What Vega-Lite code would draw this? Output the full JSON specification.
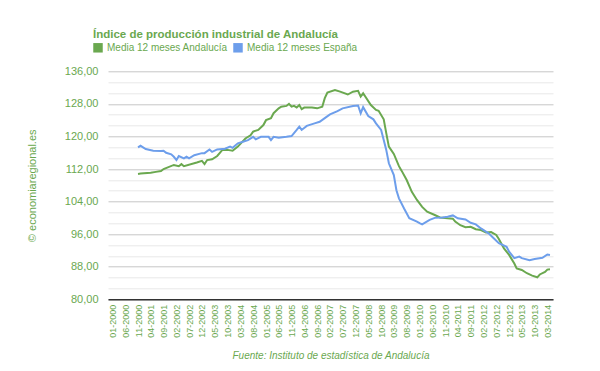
{
  "$schema": "https://vega.github.io/schema/vega-lite/v6.json",
  "width": 445,
  "height": 228,
  "autosize": {"type": "none"},
  "padding": {"left": 108, "top": 71.3, "right": 47, "bottom": 71.7},
  "background": "white",
  "config": {
    "view": {"stroke": null},
    "font": "Arial, Liberation Sans, sans-serif"
  },
  "title": {
    "text": "Índice de producción industrial de Andalucía",
    "anchor": "start",
    "frame": "group",
    "font": "Liberation Sans Narrow, Arial Narrow, Arial, Liberation Sans",
    "fontSize": 11.5,
    "fontWeight": "bold",
    "color": "#6aa84f",
    "baseline": "alphabetic",
    "dx": -15,
    "dy": 37,
    "offset": 30
  },
  "data": {
    "values": [
      {"fecha": "2000-11-01", "serie": "Media 12 meses Andalucía", "valor": 110.8},
      {"fecha": "2000-12-01", "serie": "Media 12 meses Andalucía", "valor": 110.9},
      {"fecha": "2001-04-01", "serie": "Media 12 meses Andalucía", "valor": 111.1},
      {"fecha": "2001-06-01", "serie": "Media 12 meses Andalucía", "valor": 111.3},
      {"fecha": "2001-08-01", "serie": "Media 12 meses Andalucía", "valor": 111.5},
      {"fecha": "2001-09-01", "serie": "Media 12 meses Andalucía", "valor": 112.0},
      {"fecha": "2002-01-01", "serie": "Media 12 meses Andalucía", "valor": 113.0},
      {"fecha": "2002-03-01", "serie": "Media 12 meses Andalucía", "valor": 112.7},
      {"fecha": "2002-04-01", "serie": "Media 12 meses Andalucía", "valor": 113.2},
      {"fecha": "2002-05-01", "serie": "Media 12 meses Andalucía", "valor": 112.7},
      {"fecha": "2002-10-01", "serie": "Media 12 meses Andalucía", "valor": 113.6},
      {"fecha": "2002-12-01", "serie": "Media 12 meses Andalucía", "valor": 114.0},
      {"fecha": "2003-01-01", "serie": "Media 12 meses Andalucía", "valor": 113.2},
      {"fecha": "2003-02-01", "serie": "Media 12 meses Andalucía", "valor": 114.2},
      {"fecha": "2003-04-01", "serie": "Media 12 meses Andalucía", "valor": 114.4},
      {"fecha": "2003-06-01", "serie": "Media 12 meses Andalucía", "valor": 115.2},
      {"fecha": "2003-08-01", "serie": "Media 12 meses Andalucía", "valor": 116.7},
      {"fecha": "2003-10-01", "serie": "Media 12 meses Andalucía", "valor": 116.7},
      {"fecha": "2003-12-01", "serie": "Media 12 meses Andalucía", "valor": 116.5},
      {"fecha": "2004-02-01", "serie": "Media 12 meses Andalucía", "valor": 117.5},
      {"fecha": "2004-05-01", "serie": "Media 12 meses Andalucía", "valor": 119.5},
      {"fecha": "2004-07-01", "serie": "Media 12 meses Andalucía", "valor": 120.3},
      {"fecha": "2004-08-01", "serie": "Media 12 meses Andalucía", "valor": 121.2},
      {"fecha": "2004-10-01", "serie": "Media 12 meses Andalucía", "valor": 121.6},
      {"fecha": "2004-12-01", "serie": "Media 12 meses Andalucía", "valor": 122.8},
      {"fecha": "2005-01-01", "serie": "Media 12 meses Andalucía", "valor": 124.0},
      {"fecha": "2005-03-01", "serie": "Media 12 meses Andalucía", "valor": 124.5},
      {"fecha": "2005-04-01", "serie": "Media 12 meses Andalucía", "valor": 125.7},
      {"fecha": "2005-06-01", "serie": "Media 12 meses Andalucía", "valor": 126.9},
      {"fecha": "2005-07-01", "serie": "Media 12 meses Andalucía", "valor": 127.3},
      {"fecha": "2005-09-01", "serie": "Media 12 meses Andalucía", "valor": 127.5},
      {"fecha": "2005-10-01", "serie": "Media 12 meses Andalucía", "valor": 128.0},
      {"fecha": "2005-11-01", "serie": "Media 12 meses Andalucía", "valor": 127.3},
      {"fecha": "2005-12-01", "serie": "Media 12 meses Andalucía", "valor": 127.5},
      {"fecha": "2006-01-01", "serie": "Media 12 meses Andalucía", "valor": 127.1},
      {"fecha": "2006-02-01", "serie": "Media 12 meses Andalucía", "valor": 127.7},
      {"fecha": "2006-03-01", "serie": "Media 12 meses Andalucía", "valor": 126.7},
      {"fecha": "2006-04-01", "serie": "Media 12 meses Andalucía", "valor": 127.1},
      {"fecha": "2006-07-01", "serie": "Media 12 meses Andalucía", "valor": 127.1},
      {"fecha": "2006-09-01", "serie": "Media 12 meses Andalucía", "valor": 126.9},
      {"fecha": "2006-11-01", "serie": "Media 12 meses Andalucía", "valor": 127.3},
      {"fecha": "2006-12-01", "serie": "Media 12 meses Andalucía", "valor": 129.4},
      {"fecha": "2007-01-01", "serie": "Media 12 meses Andalucía", "valor": 130.8},
      {"fecha": "2007-04-01", "serie": "Media 12 meses Andalucía", "valor": 131.4},
      {"fecha": "2007-06-01", "serie": "Media 12 meses Andalucía", "valor": 131.0},
      {"fecha": "2007-09-01", "serie": "Media 12 meses Andalucía", "valor": 130.3},
      {"fecha": "2007-11-01", "serie": "Media 12 meses Andalucía", "valor": 131.0},
      {"fecha": "2008-01-01", "serie": "Media 12 meses Andalucía", "valor": 131.2},
      {"fecha": "2008-02-01", "serie": "Media 12 meses Andalucía", "valor": 129.8},
      {"fecha": "2008-03-01", "serie": "Media 12 meses Andalucía", "valor": 130.6},
      {"fecha": "2008-06-01", "serie": "Media 12 meses Andalucía", "valor": 127.7},
      {"fecha": "2008-08-01", "serie": "Media 12 meses Andalucía", "valor": 126.5},
      {"fecha": "2008-09-01", "serie": "Media 12 meses Andalucía", "valor": 126.3},
      {"fecha": "2008-11-01", "serie": "Media 12 meses Andalucía", "valor": 124.2},
      {"fecha": "2008-12-01", "serie": "Media 12 meses Andalucía", "valor": 120.8},
      {"fecha": "2009-01-01", "serie": "Media 12 meses Andalucía", "valor": 117.5},
      {"fecha": "2009-03-01", "serie": "Media 12 meses Andalucía", "valor": 115.7},
      {"fecha": "2009-05-01", "serie": "Media 12 meses Andalucía", "valor": 112.7},
      {"fecha": "2009-06-01", "serie": "Media 12 meses Andalucía", "valor": 111.6},
      {"fecha": "2009-08-01", "serie": "Media 12 meses Andalucía", "valor": 109.3},
      {"fecha": "2009-10-01", "serie": "Media 12 meses Andalucía", "valor": 106.4},
      {"fecha": "2009-12-01", "serie": "Media 12 meses Andalucía", "valor": 104.4},
      {"fecha": "2010-02-01", "serie": "Media 12 meses Andalucía", "valor": 102.7},
      {"fecha": "2010-04-01", "serie": "Media 12 meses Andalucía", "valor": 101.5},
      {"fecha": "2010-07-01", "serie": "Media 12 meses Andalucía", "valor": 100.7},
      {"fecha": "2010-09-01", "serie": "Media 12 meses Andalucía", "valor": 100.1},
      {"fecha": "2010-12-01", "serie": "Media 12 meses Andalucía", "valor": 99.9},
      {"fecha": "2011-02-01", "serie": "Media 12 meses Andalucía", "valor": 99.8},
      {"fecha": "2011-03-01", "serie": "Media 12 meses Andalucía", "valor": 99.1},
      {"fecha": "2011-05-01", "serie": "Media 12 meses Andalucía", "valor": 98.2},
      {"fecha": "2011-07-01", "serie": "Media 12 meses Andalucía", "valor": 97.7},
      {"fecha": "2011-09-01", "serie": "Media 12 meses Andalucía", "valor": 97.8},
      {"fecha": "2011-11-01", "serie": "Media 12 meses Andalucía", "valor": 97.2},
      {"fecha": "2012-01-01", "serie": "Media 12 meses Andalucía", "valor": 97.0},
      {"fecha": "2012-03-01", "serie": "Media 12 meses Andalucía", "valor": 96.4},
      {"fecha": "2012-05-01", "serie": "Media 12 meses Andalucía", "valor": 96.5},
      {"fecha": "2012-07-01", "serie": "Media 12 meses Andalucía", "valor": 95.8},
      {"fecha": "2012-08-01", "serie": "Media 12 meses Andalucía", "valor": 94.8},
      {"fecha": "2012-10-01", "serie": "Media 12 meses Andalucía", "valor": 92.5},
      {"fecha": "2012-12-01", "serie": "Media 12 meses Andalucía", "valor": 90.9},
      {"fecha": "2013-02-01", "serie": "Media 12 meses Andalucía", "valor": 88.8},
      {"fecha": "2013-03-01", "serie": "Media 12 meses Andalucía", "valor": 87.6},
      {"fecha": "2013-05-01", "serie": "Media 12 meses Andalucía", "valor": 87.2},
      {"fecha": "2013-07-01", "serie": "Media 12 meses Andalucía", "valor": 86.4},
      {"fecha": "2013-09-01", "serie": "Media 12 meses Andalucía", "valor": 85.8},
      {"fecha": "2013-11-01", "serie": "Media 12 meses Andalucía", "valor": 85.4},
      {"fecha": "2013-12-01", "serie": "Media 12 meses Andalucía", "valor": 86.1},
      {"fecha": "2014-02-01", "serie": "Media 12 meses Andalucía", "valor": 86.7},
      {"fecha": "2014-03-01", "serie": "Media 12 meses Andalucía", "valor": 87.3},
      {"fecha": "2014-04-01", "serie": "Media 12 meses Andalucía", "valor": 87.4},
      {"fecha": "2000-11-01", "serie": "Media 12 meses España", "valor": 117.3},
      {"fecha": "2000-12-01", "serie": "Media 12 meses España", "valor": 117.7},
      {"fecha": "2001-02-01", "serie": "Media 12 meses España", "valor": 116.9},
      {"fecha": "2001-05-01", "serie": "Media 12 meses España", "valor": 116.5},
      {"fecha": "2001-08-01", "serie": "Media 12 meses España", "valor": 116.4},
      {"fecha": "2001-09-01", "serie": "Media 12 meses España", "valor": 116.5},
      {"fecha": "2001-10-01", "serie": "Media 12 meses España", "valor": 116.0},
      {"fecha": "2001-12-01", "serie": "Media 12 meses España", "valor": 115.6},
      {"fecha": "2002-01-01", "serie": "Media 12 meses España", "valor": 115.0},
      {"fecha": "2002-02-01", "serie": "Media 12 meses España", "valor": 114.2},
      {"fecha": "2002-03-01", "serie": "Media 12 meses España", "valor": 115.2},
      {"fecha": "2002-05-01", "serie": "Media 12 meses España", "valor": 114.6},
      {"fecha": "2002-06-01", "serie": "Media 12 meses España", "valor": 115.0},
      {"fecha": "2002-07-01", "serie": "Media 12 meses España", "valor": 114.6},
      {"fecha": "2002-09-01", "serie": "Media 12 meses España", "valor": 115.4},
      {"fecha": "2002-12-01", "serie": "Media 12 meses España", "valor": 115.9},
      {"fecha": "2003-01-01", "serie": "Media 12 meses España", "valor": 115.9},
      {"fecha": "2003-03-01", "serie": "Media 12 meses España", "valor": 116.8},
      {"fecha": "2003-04-01", "serie": "Media 12 meses España", "valor": 116.2},
      {"fecha": "2003-06-01", "serie": "Media 12 meses España", "valor": 116.8},
      {"fecha": "2003-09-01", "serie": "Media 12 meses España", "valor": 117.0},
      {"fecha": "2003-11-01", "serie": "Media 12 meses España", "valor": 117.5},
      {"fecha": "2003-12-01", "serie": "Media 12 meses España", "valor": 117.2},
      {"fecha": "2004-02-01", "serie": "Media 12 meses España", "valor": 118.3},
      {"fecha": "2004-04-01", "serie": "Media 12 meses España", "valor": 118.7},
      {"fecha": "2004-06-01", "serie": "Media 12 meses España", "valor": 119.1},
      {"fecha": "2004-08-01", "serie": "Media 12 meses España", "valor": 119.9},
      {"fecha": "2004-09-01", "serie": "Media 12 meses España", "valor": 119.3},
      {"fecha": "2004-11-01", "serie": "Media 12 meses España", "valor": 119.9},
      {"fecha": "2005-02-01", "serie": "Media 12 meses España", "valor": 119.9},
      {"fecha": "2005-03-01", "serie": "Media 12 meses España", "valor": 119.1},
      {"fecha": "2005-04-01", "serie": "Media 12 meses España", "valor": 119.9},
      {"fecha": "2005-06-01", "serie": "Media 12 meses España", "valor": 119.7},
      {"fecha": "2005-09-01", "serie": "Media 12 meses España", "valor": 119.9},
      {"fecha": "2005-11-01", "serie": "Media 12 meses España", "valor": 120.1},
      {"fecha": "2006-01-01", "serie": "Media 12 meses España", "valor": 121.6},
      {"fecha": "2006-02-01", "serie": "Media 12 meses España", "valor": 122.4},
      {"fecha": "2006-03-01", "serie": "Media 12 meses España", "valor": 121.6},
      {"fecha": "2006-05-01", "serie": "Media 12 meses España", "valor": 122.6},
      {"fecha": "2006-08-01", "serie": "Media 12 meses España", "valor": 123.2},
      {"fecha": "2006-10-01", "serie": "Media 12 meses España", "valor": 123.6},
      {"fecha": "2006-12-01", "serie": "Media 12 meses España", "valor": 124.5},
      {"fecha": "2007-02-01", "serie": "Media 12 meses España", "valor": 125.4},
      {"fecha": "2007-05-01", "serie": "Media 12 meses España", "valor": 126.2},
      {"fecha": "2007-07-01", "serie": "Media 12 meses España", "valor": 126.9},
      {"fecha": "2007-11-01", "serie": "Media 12 meses España", "valor": 127.5},
      {"fecha": "2008-01-01", "serie": "Media 12 meses España", "valor": 127.6},
      {"fecha": "2008-02-01", "serie": "Media 12 meses España", "valor": 125.7},
      {"fecha": "2008-03-01", "serie": "Media 12 meses España", "valor": 127.2},
      {"fecha": "2008-05-01", "serie": "Media 12 meses España", "valor": 125.0},
      {"fecha": "2008-07-01", "serie": "Media 12 meses España", "valor": 124.2},
      {"fecha": "2008-08-01", "serie": "Media 12 meses España", "valor": 123.2},
      {"fecha": "2008-10-01", "serie": "Media 12 meses España", "valor": 121.6},
      {"fecha": "2008-11-01", "serie": "Media 12 meses España", "valor": 119.1},
      {"fecha": "2008-12-01", "serie": "Media 12 meses España", "valor": 116.7},
      {"fecha": "2009-01-01", "serie": "Media 12 meses España", "valor": 113.4},
      {"fecha": "2009-03-01", "serie": "Media 12 meses España", "valor": 110.5},
      {"fecha": "2009-04-01", "serie": "Media 12 meses España", "valor": 106.8},
      {"fecha": "2009-05-01", "serie": "Media 12 meses España", "valor": 104.8},
      {"fecha": "2009-07-01", "serie": "Media 12 meses España", "valor": 102.3},
      {"fecha": "2009-09-01", "serie": "Media 12 meses España", "valor": 99.9},
      {"fecha": "2009-12-01", "serie": "Media 12 meses España", "valor": 99.1},
      {"fecha": "2010-01-01", "serie": "Media 12 meses España", "valor": 98.7},
      {"fecha": "2010-02-01", "serie": "Media 12 meses España", "valor": 98.4},
      {"fecha": "2010-05-01", "serie": "Media 12 meses España", "valor": 99.5},
      {"fecha": "2010-07-01", "serie": "Media 12 meses España", "valor": 100.0},
      {"fecha": "2010-10-01", "serie": "Media 12 meses España", "valor": 100.1},
      {"fecha": "2010-12-01", "serie": "Media 12 meses España", "valor": 100.3},
      {"fecha": "2011-02-01", "serie": "Media 12 meses España", "valor": 100.6},
      {"fecha": "2011-04-01", "serie": "Media 12 meses España", "valor": 99.9},
      {"fecha": "2011-07-01", "serie": "Media 12 meses España", "valor": 99.6},
      {"fecha": "2011-09-01", "serie": "Media 12 meses España", "valor": 98.8},
      {"fecha": "2011-11-01", "serie": "Media 12 meses España", "valor": 98.4},
      {"fecha": "2012-01-01", "serie": "Media 12 meses España", "valor": 97.4},
      {"fecha": "2012-04-01", "serie": "Media 12 meses España", "valor": 96.2},
      {"fecha": "2012-06-01", "serie": "Media 12 meses España", "valor": 95.0},
      {"fecha": "2012-08-01", "serie": "Media 12 meses España", "valor": 93.8},
      {"fecha": "2012-11-01", "serie": "Media 12 meses España", "valor": 92.9},
      {"fecha": "2012-12-01", "serie": "Media 12 meses España", "valor": 91.7},
      {"fecha": "2013-02-01", "serie": "Media 12 meses España", "valor": 90.1},
      {"fecha": "2013-04-01", "serie": "Media 12 meses España", "valor": 90.5},
      {"fecha": "2013-05-01", "serie": "Media 12 meses España", "valor": 90.1},
      {"fecha": "2013-08-01", "serie": "Media 12 meses España", "valor": 89.6},
      {"fecha": "2013-10-01", "serie": "Media 12 meses España", "valor": 89.9},
      {"fecha": "2014-01-01", "serie": "Media 12 meses España", "valor": 90.2},
      {"fecha": "2014-03-01", "serie": "Media 12 meses España", "valor": 91.0},
      {"fecha": "2014-04-01", "serie": "Media 12 meses España", "valor": 90.9}
    ]
  },
  "mark": {"type": "line", "strokeWidth": 2},
  "encoding": {
    "x": {
      "field": "fecha",
      "type": "temporal",
      "scale": {
        "type": "utc",
        "domain": [
          {"year": 1999, "month": 11, "date": 10, "utc": true},
          {"year": 2014, "month": 5, "date": 7, "utc": true}
        ]
      },
      "axis": {
        "values": [
          {"year": 2000, "month": 1, "date": 1, "utc": true},
          {"year": 2000, "month": 6, "date": 1, "utc": true},
          {"year": 2000, "month": 11, "date": 1, "utc": true},
          {"year": 2001, "month": 4, "date": 1, "utc": true},
          {"year": 2001, "month": 9, "date": 1, "utc": true},
          {"year": 2002, "month": 2, "date": 1, "utc": true},
          {"year": 2002, "month": 7, "date": 1, "utc": true},
          {"year": 2002, "month": 12, "date": 1, "utc": true},
          {"year": 2003, "month": 5, "date": 1, "utc": true},
          {"year": 2003, "month": 10, "date": 1, "utc": true},
          {"year": 2004, "month": 3, "date": 1, "utc": true},
          {"year": 2004, "month": 8, "date": 1, "utc": true},
          {"year": 2005, "month": 1, "date": 1, "utc": true},
          {"year": 2005, "month": 6, "date": 1, "utc": true},
          {"year": 2005, "month": 11, "date": 1, "utc": true},
          {"year": 2006, "month": 4, "date": 1, "utc": true},
          {"year": 2006, "month": 9, "date": 1, "utc": true},
          {"year": 2007, "month": 2, "date": 1, "utc": true},
          {"year": 2007, "month": 7, "date": 1, "utc": true},
          {"year": 2007, "month": 12, "date": 1, "utc": true},
          {"year": 2008, "month": 5, "date": 1, "utc": true},
          {"year": 2008, "month": 10, "date": 1, "utc": true},
          {"year": 2009, "month": 3, "date": 1, "utc": true},
          {"year": 2009, "month": 8, "date": 1, "utc": true},
          {"year": 2010, "month": 1, "date": 1, "utc": true},
          {"year": 2010, "month": 6, "date": 1, "utc": true},
          {"year": 2010, "month": 11, "date": 1, "utc": true},
          {"year": 2011, "month": 4, "date": 1, "utc": true},
          {"year": 2011, "month": 9, "date": 1, "utc": true},
          {"year": 2012, "month": 2, "date": 1, "utc": true},
          {"year": 2012, "month": 7, "date": 1, "utc": true},
          {"year": 2012, "month": 12, "date": 1, "utc": true},
          {"year": 2013, "month": 5, "date": 1, "utc": true},
          {"year": 2013, "month": 10, "date": 1, "utc": true},
          {"year": 2014, "month": 3, "date": 1, "utc": true}
        ],
        "labelExpr": "utcFormat(datum.value, '%m-%Y')",
        "labelAngle": 270,
        "labelAlign": "right",
        "labelBaseline": "middle",
        "labelFontSize": 9,
        "labelColor": "#6aa84f",
        "labelPadding": 5,
        "labelOverlap": false,
        "labelFlush": false,
        "ticks": false,
        "grid": false,
        "domainColor": "#333333",
        "domainWidth": 1.5,
        "title": "Fuente: Instituto de estadística de Andalucía",
        "titleFontStyle": "italic",
        "titleFontWeight": "normal",
        "titleFontSize": 10,
        "titleColor": "#6aa84f",
        "titlePadding": 13
      }
    },
    "y": {
      "field": "valor",
      "type": "quantitative",
      "scale": {"domain": [80, 136], "nice": false, "zero": false},
      "axis": {
        "values": [80, 82.6667, 85.3333, 88, 90.6667, 93.3333, 96, 98.6667, 101.3333, 104, 106.6667, 109.3333, 112, 114.6667, 117.3333, 120, 122.6667, 125.3333, 128, 130.6667, 133.3333, 136],
        "labelExpr": "abs(datum.value/8 - round(datum.value/8)) < 0.01 ? replace(format(datum.value, '.2f'), '.', ',') : ''",
        "gridColor": {"condition": {"test": "abs(datum.value/8 - round(datum.value/8)) < 0.01", "value": "#c6c6c6"}, "value": "#e8e8e8"},
        "ticks": false,
        "domain": false,
        "labelColor": "#6aa84f",
        "labelFontSize": 11,
        "labelPadding": 10,
        "labelOverlap": false,
        "title": "© economiaregional.es",
        "titleColor": "#6aa84f",
        "titleFontWeight": "normal",
        "titleFontSize": 11,
        "titlePadding": 27
      }
    },
    "color": {
      "field": "serie",
      "type": "nominal",
      "scale": {
        "domain": ["Media 12 meses Andalucía", "Media 12 meses España"],
        "range": ["#6aa84f", "#6d9eeb"]
      },
      "legend": {
        "orient": "none",
        "legendX": -15,
        "legendY": -28.5,
        "direction": "horizontal",
        "title": null,
        "symbolType": "square",
        "symbolSize": 90,
        "symbolStrokeWidth": 0,
        "labelFontSize": 10,
        "labelColor": "#6aa84f",
        "labelOffset": 4,
        "columnPadding": 5,
        "encode": {
          "symbols": {
            "update": {
              "fill": {"scale": "color", "field": "value"},
              "fillOpacity": {"value": 1}
            }
          }
        }
      }
    }
  }
}
